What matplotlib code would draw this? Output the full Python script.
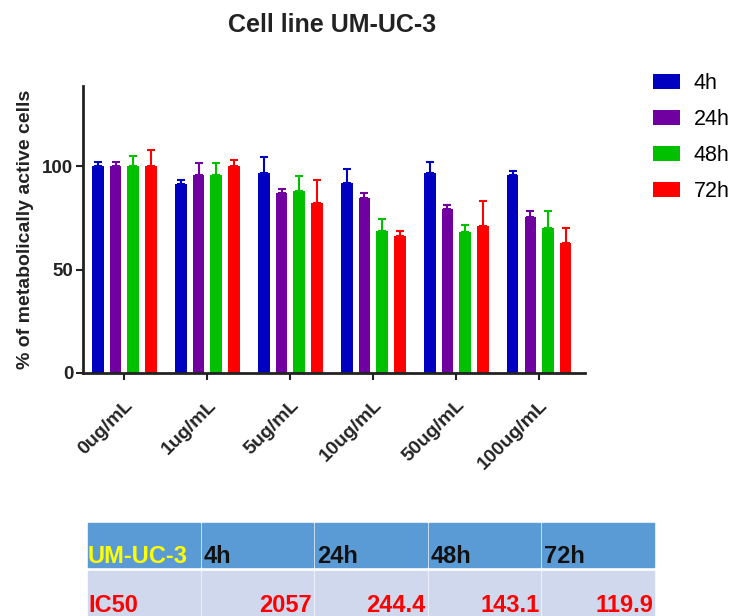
import numpy as np
import matplotlib.pyplot as plt

plt.rcParams['font.family'] = ['Liberation Sans', 'DejaVu Sans']

# Data
doses = ["0ug/mL", "1ug/mL", "5ug/mL", "10ug/mL", "50ug/mL", "100ug/mL"]
times = ["4h", "24h", "48h", "72h"]

mean_4h = [100.0, 91.6, 96.6, 92.2, 96.6, 96.1]
mean_24h = [100.0, 96.0, 87.0, 84.5, 79.4, 75.7]
mean_48h = [100.0, 95.8, 87.9, 68.9, 68.1, 70.0]
mean_72h = [100.0, 100.3, 82.5, 66.3, 71.2, 62.8]

err_4h = [2.0, 1.9, 7.9, 6.8, 5.7, 1.6]
err_24h = [2.0, 5.6, 2.0, 2.5, 2.0, 2.8]
err_48h = [5.0, 5.8, 7.6, 5.5, 3.4, 8.2]
err_72h = [8.0, 2.7, 11.0, 2.3, 12.0, 7.6]

ic50_values = ["2057", "244.4", "143.1", "119.9"]

means = [mean_4h, mean_24h, mean_48h, mean_72h]
errs = [err_4h, err_24h, err_48h, err_72h]
colors = ["#0000c0", "#7000a0", "#00c000", "#ff0000"]


def main():
    W, H = 739, 616
    fig = plt.figure(figsize=(W / 100, H / 100), dpi=100)
    ax = fig.add_axes([0.1123, 0.3945, 0.679, 0.466])

    x = np.arange(len(doses))
    pitch = 0.213
    width = 0.14
    for i, (m, e, c, lab) in enumerate(zip(means, errs, colors, times)):
        xpos = x + (i - 1.5) * pitch
        ax.bar(xpos, m, width=width, color=c, label=lab, zorder=2)
        ax.errorbar(xpos, m, yerr=[np.zeros(len(e)), e], fmt="none",
                    ecolor=c, elinewidth=1.5, capsize=3, capthick=1.5,
                    zorder=3)

    ax.set_xlim(-0.5, 5.55)
    ax.set_ylim(0, 139)
    ax.set_yticks([0, 50, 100])
    ax.set_xticks(x)
    ax.set_xticklabels(doses, rotation=45, ha="right",
                       rotation_mode="anchor", fontweight="bold",
                       fontsize=14, color="#222222")
    for t in ax.get_yticklabels():
        t.set_fontweight("bold")
        t.set_fontsize(13.5)
        t.set_color("#222222")
    ax.tick_params(axis="both", width=1.5, length=5, color="#222222")
    ax.tick_params(axis="y", pad=2)
    ax.tick_params(axis="x", pad=12)
    ax.spines["top"].set_visible(False)
    ax.spines["right"].set_visible(False)
    ax.spines["left"].set_linewidth(2)
    ax.spines["bottom"].set_linewidth(2)
    ax.spines["left"].set_color("#222222")
    ax.spines["bottom"].set_color("#222222")
    ax.set_ylabel("% of metabolically active cells", fontweight="bold",
                  fontsize=14, labelpad=6, color="#222222")

    fig.text(332 / W, 1 - 25 / H, "Cell line UM-UC-3", ha="center",
             va="center", fontsize=18, fontweight="bold", color="#222222")

    handles, labels = ax.get_legend_handles_labels()
    fig.legend(handles, labels, loc="upper left",
               bbox_to_anchor=(653 / W, 1 - 73 / H), frameon=False,
               fontsize=15.5, handlelength=1.25, handleheight=0.65,
               handletextpad=0.65, labelspacing=0.7, borderpad=0,
               borderaxespad=0)

    # IC50 table
    left_px = 88
    right_px = 656
    ncol = len(ic50_values) + 1
    col_w = (right_px - left_px) / ncol
    head_top, head_bot = 523, 567
    row_top, row_bot = 571, 622
    for j in range(ncol):
        x0 = (left_px + j * col_w) / W
        w = (col_w - 2) / W
        fig.patches.append(plt.Rectangle((x0, 1 - head_bot / H), w,
                                         (head_bot - head_top) / H,
                                         transform=fig.transFigure,
                                         color="#5b9bd5", zorder=0))
        fig.patches.append(plt.Rectangle((x0, 1 - row_bot / H), w,
                                         (row_bot - row_top) / H,
                                         transform=fig.transFigure,
                                         color="#cfd8ec", zorder=0))
        if j == 0:
            fig.text(x0, 1 - 563 / H, "UM-UC-3", ha="left",
                     va="baseline", fontsize=17, fontweight="bold",
                     color="#ffff00")
            fig.text(x0, 1 - 612 / H, "IC50", ha="left",
                     va="baseline", fontsize=17, fontweight="bold",
                     color="#ff0000")
        else:
            fig.text(x0 + 2 / W, 1 - 563 / H, times[j - 1], ha="left",
                     va="baseline", fontsize=17, fontweight="bold",
                     color="#111111")
            fig.text(x0 + w - 1 / W, 1 - 612 / H, ic50_values[j - 1],
                     ha="right", va="baseline", fontsize=17,
                     fontweight="bold", color="#ff0000")

    fig.savefig("out.png", dpi=100)


if __name__ == "__main__":
    main()
